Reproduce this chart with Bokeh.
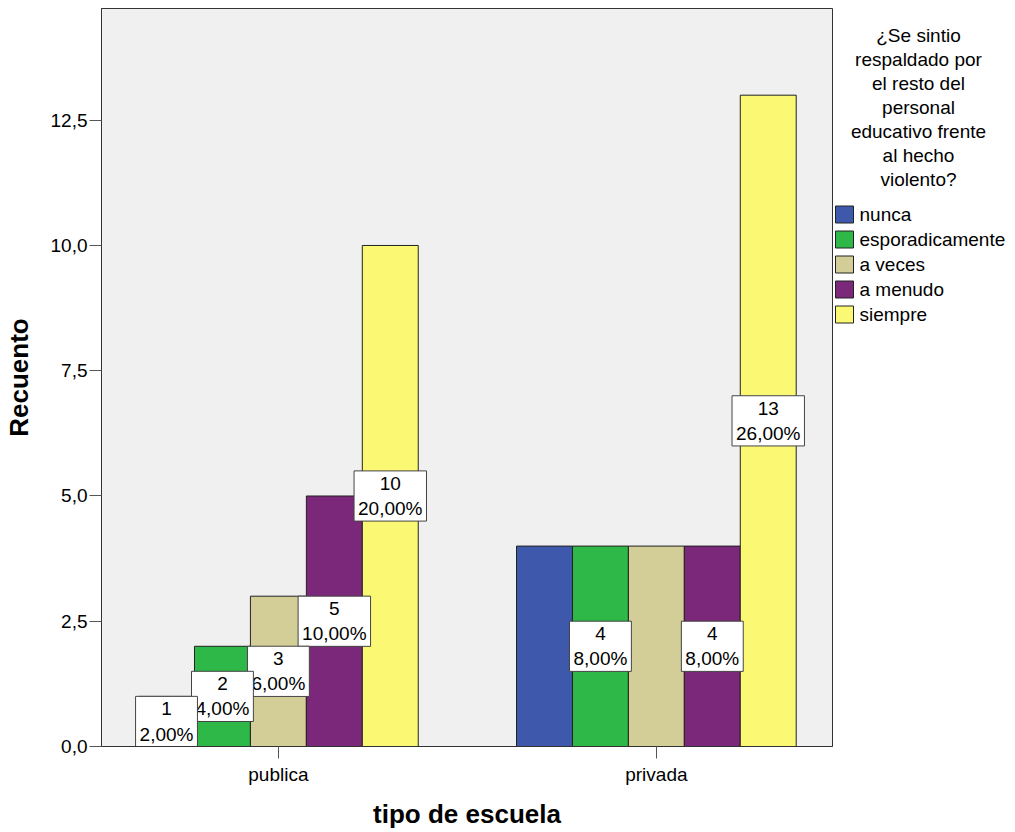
from bokeh.plotting import figure
from bokeh.layouts import row
from bokeh.models import (Range1d, FixedTicker, CustomJSTickFormatter,
                          ColumnDataSource)
from bokeh.embed import file_html
from bokeh.resources import INLINE
from bokeh.core.properties import value

# ---------------- data ----------------
schools = ["publica", "privada"]
responses = ["nunca", "esporadicamente", "a veces", "a menudo", "siempre"]
publica_counts = [1, 2, 3, 5, 10]
privada_counts = [4, 4, 4, 4, 13]
colors = ["#3E58AC", "#2EB848", "#D3CE97", "#7B287B", "#FBF873"]
publica_labeled = [True, True, True, True, True]
privada_labeled = [False, True, False, True, True]
legend_title = ["¿Se sintio", "respaldado por", "el resto del", "personal",
                "educativo frente", "al hecho", "violento?"]
x_title = "tipo de escuela"
y_title = "Recuento"
y_ticks = [0, 2.5, 5, 7.5, 10, 12.5]

FONT = "Liberation Sans"
total = sum(publica_counts) + sum(privada_counts)
bar_w = 0.148
offsets = [(j - 2) * bar_w for j in range(len(responses))]

TOP, BOTTOM = 8, 86
H = 832

# ---------------- main chart ----------------
p = figure(width=833, height=H, output_backend="svg", toolbar_location=None,
           x_range=Range1d(-0.468, 1.466), y_range=Range1d(0, 14.73),
           min_border_left=101, min_border_right=1, min_border_top=TOP,
           min_border_bottom=BOTTOM)
p.background_fill_color = "#F0F0F0"
p.border_fill_color = "white"
p.outline_line_color = "#333333"
p.outline_line_width = 1
p.grid.visible = False

for j, resp in enumerate(responses):
    src = ColumnDataSource(dict(
        x=[i + offsets[j] for i in range(len(schools))],
        top=[publica_counts[j], privada_counts[j]]))
    p.vbar(x="x", top="top", bottom=0, width=bar_w, source=src,
           fill_color=colors[j], line_color="#222222", line_width=1,
           legend_label=resp)
p.legend.visible = False

# bar labels (earlier ones drawn on top -> reverse order)
lx, ly, lt = [], [], []
for i, (counts, shown) in enumerate([(publica_counts, publica_labeled),
                                     (privada_counts, privada_labeled)]):
    for j in range(len(responses)):
        if shown[j]:
            c = counts[j]
            pct = ("%.2f" % (c / total * 100)).replace(".", ",")
            lx.append(i + offsets[j])
            ly.append(c / 2)
            lt.append(f"{c}\n{pct}%")
lsrc = ColumnDataSource(dict(x=lx[::-1], y=ly[::-1], t=lt[::-1]))
p.text(x="x", y="y", text="t", source=lsrc, text_align="center",
       text_baseline="middle", text_font=value(FONT), text_font_size="19px",
       text_color="black", text_line_height=1.2,
       background_fill_color="white", border_line_color="#444444",
       border_line_width=1, padding=(4, 2))

# axes
p.yaxis.ticker = FixedTicker(ticks=y_ticks)
p.yaxis.formatter = CustomJSTickFormatter(code="return tick.toFixed(1).replace('.', ',')")
p.xaxis.ticker = FixedTicker(ticks=list(range(len(schools))))
p.xaxis.major_label_overrides = {i: s for i, s in enumerate(schools)}
for ax in (p.xaxis, p.yaxis):
    ax.major_tick_out = 12
    ax.major_tick_in = 0
    ax.minor_tick_line_color = None
    ax.axis_line_color = "#333333"
    ax.major_tick_line_color = "#555555"
    ax.major_label_text_font = FONT
    ax.major_label_text_font_size = "19px"
    ax.major_label_text_color = "black"
    ax.axis_label_text_font = FONT
    ax.axis_label_text_font_size = "26px"
    ax.axis_label_text_font_style = "bold"
    ax.axis_label_text_color = "black"
p.yaxis.axis_label = y_title
p.xaxis.axis_label = x_title
p.yaxis.major_label_standoff = 2
p.yaxis.axis_label_standoff = 14
p.xaxis.major_label_standoff = 5
p.xaxis.axis_label_standoff = 11

# ---------------- legend panel ----------------
LW = 182
q = figure(width=LW, height=H, output_backend="svg", toolbar_location=None,
           x_range=Range1d(0, LW), y_range=Range1d(H - BOTTOM, TOP),
           min_border_left=0, min_border_right=0, min_border_top=TOP,
           min_border_bottom=BOTTOM, x_axis_type=None, y_axis_type=None)
q.outline_line_color = None
q.background_fill_color = "white"
q.border_fill_color = "white"
q.grid.visible = False

tsrc = ColumnDataSource(dict(
    x=[85] * len(legend_title),
    y=[35 + 24 * i for i in range(len(legend_title))],
    t=legend_title))
q.text(x="x", y="y", text="t", source=tsrc, text_align="center",
       text_baseline="middle", text_font=value(FONT), text_font_size="19px",
       text_color="black")

ysw = [214 + 25 * j for j in range(len(responses))]
q.rect(x=[11] * len(responses), y=ysw, width=18, height=17,
       fill_color=colors, line_color="#222222", line_width=1)
q.text(x=[26] * len(responses), y=ysw, text=responses, text_align="left",
       text_baseline="middle", text_font=value(FONT), text_font_size="19px",
       text_color="black")

layout = row(p, q)
open("out.html", "w").write(file_html(layout, INLINE))
